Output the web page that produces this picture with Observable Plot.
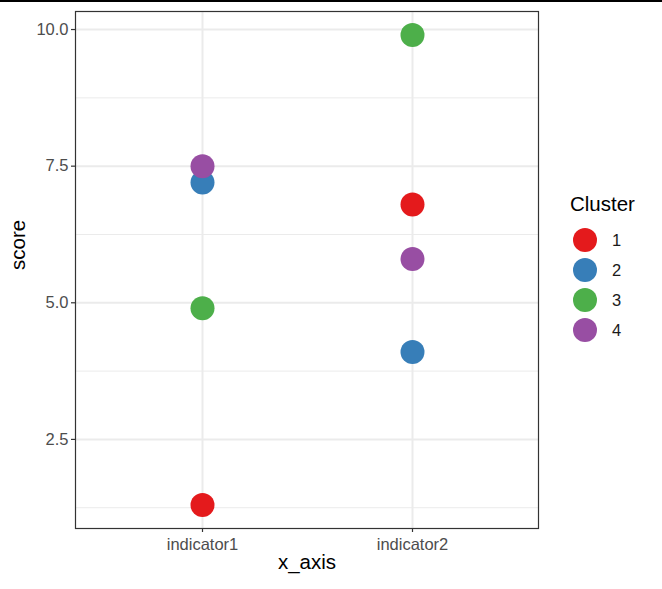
<!DOCTYPE html>
<html>
<head>
<meta charset="utf-8">
<script src="https://cdn.jsdelivr.net/npm/d3@7"></script>
<script src="https://cdn.jsdelivr.net/npm/@observablehq/plot@0.6"></script>
<style>
  html, body { margin: 0; padding: 0; background: #fff; }
  #wrap { position: relative; width: 662px; height: 589px; font-family: "Liberation Sans", Arial, sans-serif; }
  #topline { position: absolute; left: 0; top: 0; width: 662px; height: 2px; background: #000; }
  #legend { position: absolute; left: 570px; top: 191px; }
  #legend .title { font-size: 20.5px; color: #000; line-height: 26px; margin-bottom: 8px; }
  #legend .item { display: flex; align-items: center; height: 30px; }
  #legend .dot { width: 24px; height: 24px; border-radius: 50%; margin-left: 3px; }
  #legend .lab { font-size: 16.5px; color: #1a1a1a; margin-left: 15px; }
</style>
</head>
<body>
<div id="wrap"><div id="topline"></div></div>
<script>
const categories = ["indicator1", "indicator2"];
const clusters = ["1", "2", "3", "4"];
const clusterColors = ["#E41A1C", "#377EB8", "#4DAF4A", "#984EA3"];
const indicator1Scores = [1.3, 7.2, 4.9, 7.5];
const indicator2Scores = [6.8, 4.1, 9.9, 5.8];
const yMajorTicks = [2.5, 5.0, 7.5, 10.0];
const yMinorTicks = [1.25, 3.75, 6.25, 8.75];
const xLabel = "x_axis";
const yLabel = "score";
const legendTitle = "Cluster";

const data = [];
clusters.forEach((c, i) => data.push({x: categories[0], score: indicator1Scores[i], cluster: c}));
clusters.forEach((c, i) => data.push({x: categories[1], score: indicator2Scores[i], cluster: c}));

const chart = Plot.plot({
  width: 662,
  height: 589,
  marginLeft: 75,
  marginRight: 124,
  marginTop: 11,
  marginBottom: 61,
  style: {fontFamily: "'Liberation Sans', Arial, sans-serif", background: "transparent"},
  x: {type: "point", domain: categories, padding: 0.6},
  y: {domain: [0.87, 10.33]},
  color: {domain: clusters, range: clusterColors},
  marks: [
    Plot.ruleY(yMinorTicks, {stroke: "#ebebeb", strokeWidth: 1}),
    Plot.ruleY(yMajorTicks, {stroke: "#ebebeb", strokeWidth: 2}),
    Plot.ruleX(categories, {x: d => d, stroke: "#ebebeb", strokeWidth: 2}),
    Plot.dot(data, {x: "x", y: "score", fill: "cluster", r: 12, stroke: null}),
    Plot.frame({stroke: "#333333", strokeWidth: 1.2}),
    Plot.axisY(yMajorTicks, {tickSize: 4, tickPadding: 3, tickFormat: d => d.toFixed(1), fontSize: 16.5, color: "#4d4d4d", stroke: "#333333", strokeWidth: 1.2, label: null}),
    Plot.axisX(categories, {tickSize: 4, tickPadding: 6, fontSize: 16.5, color: "#4d4d4d", stroke: "#333333", strokeWidth: 1.2, label: null}),
    Plot.text([xLabel], {frameAnchor: "bottom", dy: 40, fontSize: 20.5, fill: "#000", text: d => d}),
    Plot.text([yLabel], {frameAnchor: "left", dx: -57, rotate: -90, fontSize: 20.5, fill: "#000", text: d => d})
  ]
});
const wrap = document.getElementById("wrap");
wrap.insertBefore(chart, wrap.firstChild);

const legend = document.createElement("div");
legend.id = "legend";
const t = document.createElement("div");
t.className = "title";
t.textContent = legendTitle;
legend.appendChild(t);
clusters.forEach((c, i) => {
  const item = document.createElement("div");
  item.className = "item";
  const dot = document.createElement("div");
  dot.className = "dot";
  dot.style.background = clusterColors[i];
  const lab = document.createElement("div");
  lab.className = "lab";
  lab.textContent = c;
  item.appendChild(dot);
  item.appendChild(lab);
  legend.appendChild(item);
});
wrap.appendChild(legend);
</script>
</body>
</html>
